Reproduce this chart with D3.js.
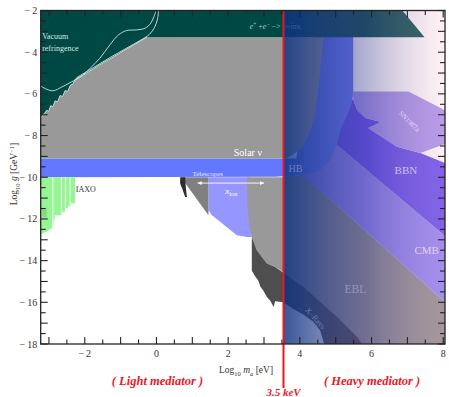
<!DOCTYPE html>
<html><head><meta charset="utf-8">
<script src="https://cdn.jsdelivr.net/npm/d3@7"></script>
<style>
html,body{margin:0;padding:0;background:#fff;}
svg{display:block;}
text{font-family:"Liberation Serif","DejaVu Serif",serif;}
</style></head><body>
<svg id="chart" width="449" height="397"></svg>
<script>
// Axes: log10 of the axion mass m_a [eV] and of the photon coupling g [GeV^-1]
const xDomain = [-3.23, 8.05];
const yDomain = [-18, -2];
const xTickLabels = [-2, 0, 2, 4, 6, 8];
const yTickLabels = [-2, -4, -6, -8, -10, -12, -14, -16, -18];

// Mediator mass separating the light and heavy regimes
const splitMassEV = 3500;          // 3.5 keV
const xSplit = Math.log10(splitMassEV);

// Upper-left edge of the solar-neutrino exclusion (jagged)
const solarEdge = [[-3.23,-7.17],[-3.17,-7.0],[-3.12,-6.93],[-3.06,-6.78],[-3.01,-6.84],[-2.95,-6.56],
  [-2.89,-6.62],[-2.83,-6.33],[-2.76,-6.38],[-2.69,-6.08],[-2.62,-6.12],[-2.55,-5.84],[-2.48,-5.88],
  [-2.40,-5.58],[-2.33,-5.52],[-2.27,-5.30],[-2.18,-5.22],[-1.95,-5.0],[-1.575,-4.6],[-1.0,-4.02],[-0.27,-3.28]];
// e+e- -> gamma + inv. band plus the vacuum-refringence corner
const pairBand = [[-3.23,-2],[6.86,-2],[7.48,-3.28]];
// Solar nu region (right boundary follows the HB curve)
const solarRight = [[4.66,-3.28],[4.60,-4.4],[4.51,-5.85],[4.41,-7.1],[4.27,-7.9],[4.07,-8.55],[3.79,-8.94],[3.6,-9.1],[-3.23,-9.1]];
const solarColumn = [[2.52,-10],[3.6,-10],[3.6,-14.62],[3.31,-14.31],[3.08,-14.14],[2.80,-13.5],[2.66,-12.87],[2.60,-12.38],[2.54,-11.44]];
// Horizontal branch stars
const hbRegion = [[-3.23,-9.1],[3.9,-9.1],[4.4,-3.2],[5.49,-3.2],[5.49,-6.0],[5.44,-6.5],[5.30,-7.1],[5.13,-7.74],
  [5.02,-8.5],[4.85,-9.18],[4.57,-9.66],[4.10,-9.9],[3.31,-9.98],[-3.23,-10]];
const snRegion = [[5.49,-5.89],[7.03,-5.89],[8.06,-6.8],[8.06,-8.4],[7.36,-8.84],[6.71,-8.54],[5.91,-7.64],
  [6.27,-7.35],[5.83,-7.16],[5.60,-6.77],[5.49,-6.29]];
const bbnRegion = [[5.27,-6.05],[5.49,-6.29],[5.60,-6.77],[5.83,-7.16],[6.27,-7.35],[5.91,-7.64],[6.71,-8.54],
  [7.36,-8.84],[8.06,-9.32],[8.06,-12.83],[4.93,-8.30],[4.71,-7.74]];
const cmbRegion = [[4.57,-8.22],[4.93,-8.30],[8.06,-12.83],[8.06,-16.0],[4.85,-11.05],[4.09,-9.99],[3.45,-9.66]];
const eblRegion = [[xSplit,-9.9],[4.10,-9.95],[4.85,-11.05],[8.06,-16.0],[8.06,-18],[4.68,-18],[4.57,-17.35],
  [4.37,-16.92],[4.10,-16.58],[3.79,-16.29],[xSplit,-16.0]];
const xrayRegion = [[2.66,-12.87],[2.80,-13.5],[3.08,-14.14],[3.31,-14.31],[4.10,-15.27],[5.04,-16.71],[5.60,-17.67],
  [5.74,-18],[4.68,-18],[4.57,-17.35],[4.37,-16.92],[4.10,-16.58],[3.79,-16.29],[3.54,-16.0],[3.31,-15.95],
  [3.27,-16.23],[3.17,-15.91],[3.08,-15.75],[2.98,-15.43],[2.90,-15.25],[2.84,-14.95],[2.75,-14.75],[2.66,-14.47]];
const xionRegion = [[1.45,-10],[2.62,-10],[2.66,-12.87],[2.52,-12.87],[2.24,-12.78],[2.01,-12.46],[1.55,-11.82],[1.45,-11.58]];
const telescopeWedge = [[0.74,-10],[1.45,-10],[1.45,-11.82],[0.80,-10.28]];
const telescopeSliver = [[0.66,-10],[0.80,-10],[0.82,-10.5],[0.85,-10.95],[0.80,-10.95],[0.72,-10.55],[0.66,-10.3]];
const iaxoRegion = [[-3.23,-10],[-2.27,-10],[-2.27,-11.25],[-2.38,-11.25],[-2.38,-11.39],[-2.47,-11.39],[-2.47,-11.49],
  [-2.55,-11.49],[-2.55,-11.68],[-2.65,-11.68],[-2.65,-11.82],[-2.83,-11.82],[-2.83,-11.92],[-2.92,-12.45],
  [-3.06,-12.60],[-3.23,-12.74]];
const iaxoGaps = [-2.89, -2.65, -2.54, -2.41];
const iaxoHatch = [-3.17, -3.14, -3.11, -3.08];
// Vacuum refringence contours
const refringenceA = [[-3.23,-5.62],[-3.06,-5.78],[-2.88,-5.85],[-2.65,-5.68],[-2.41,-5.46],[-2.13,-5.20],[-1.85,-4.77],
  [-1.58,-4.29],[-1.30,-3.65],[-1.06,-3.17],[-0.83,-2.96],[-0.55,-2.93],[-0.32,-2.85],[-0.16,-2.61],[-0.07,-2.29],[-0.01,-2.0]];
const refringenceB = [[-2.23,-5.22],[-1.76,-4.74],[-1.30,-4.26],[-0.83,-3.80],[-0.46,-3.44],[-0.2,-3.15],[-0.05,-2.8],[0.03,-2.4],[0.06,-2.0]];
const xionArrow = [[1.15,-10.28],[3.0,-10.28]];

const svg = d3.select('#chart');
const plot = {left: 40.7, right: 445, top: 10.5, bottom: 344};
const x = d3.scaleLinear().domain(xDomain).range([plot.left, plot.right]);
const y = d3.scaleLinear().domain(yDomain).range([plot.bottom, plot.top]);
const path = d3.line().x(d => x(d[0])).y(d => y(d[1]));
const smooth = d3.line().x(d => x(d[0])).y(d => y(d[1])).curve(d3.curveCatmullRom);

const defs = svg.append('defs');
defs.append('clipPath').attr('id', 'plotClip').append('rect')
  .attr('x', plot.left).attr('y', plot.top).attr('width', plot.right - plot.left).attr('height', plot.bottom - plot.top);
defs.append('clipPath').attr('id', 'iaxoClip').append('path').attr('d', path(iaxoRegion) + 'Z');
const grad = defs.append('linearGradient').attr('id', 'heavyShade').attr('gradientUnits', 'userSpaceOnUse')
  .attr('x1', x(xSplit)).attr('x2', x(xDomain[1])).attr('y1', 0).attr('y2', 0);
[[0, 'rgb(10,50,130)', 0.82], [0.5, 'rgb(70,70,150)', 0.42], [1, 'rgb(255,195,205)', 0.22]].forEach(s =>
  grad.append('stop').attr('offset', s[0]).attr('stop-color', s[1]).attr('stop-opacity', s[2]));

const g = svg.append('g').attr('clip-path', 'url(#plotClip)');
g.append('rect').attr('x', plot.left).attr('y', plot.top).attr('width', plot.right - plot.left)
  .attr('height', plot.bottom - plot.top).attr('fill', '#fff');

function poly(pts, fill) {
  return g.append('path').attr('d', path(pts) + 'Z').attr('fill', fill);
}
poly(eblRegion, '#8c8b8e');
poly(cmbRegion, 'rgb(140,128,245)');
poly(bbnRegion, 'rgb(95,72,240)');
poly(snRegion, 'rgb(165,145,238)');
poly(hbRegion, 'rgb(100,120,255)');
poly(xionRegion, 'rgb(150,150,255)');
poly(telescopeWedge, '#808080');
poly(telescopeSliver, '#2e2e2e');
poly(solarEdge.concat(solarRight), '#999999');
poly(solarColumn, '#999999');
poly(xrayRegion, '#4e4e4e');
poly(pairBand.concat(solarEdge.slice().reverse()), 'rgb(0,72,68)');
g.append('path').attr('d', path(solarEdge)).attr('fill', 'none').attr('stroke', 'rgba(235,245,240,0.85)').attr('stroke-width', 0.8);

// IAXO sensitivity
poly(iaxoRegion, 'rgb(150,246,150)');
const iaxo = g.append('g').attr('clip-path', 'url(#iaxoClip)');
iaxoGaps.forEach(v => iaxo.append('line').attr('x1', x(v)).attr('x2', x(v)).attr('y1', y(-10)).attr('y2', y(-13))
  .attr('stroke', '#fff').attr('stroke-width', 0.9));
iaxoHatch.forEach(v => iaxo.append('line').attr('x1', x(v)).attr('x2', x(v)).attr('y1', y(-11.5)).attr('y2', y(-11.92))
  .attr('stroke', 'rgb(110,190,110)').attr('stroke-width', 0.6));

// vacuum refringence contours
[refringenceA, refringenceB].forEach(c => g.append('path').attr('d', smooth(c)).attr('fill', 'none')
  .attr('stroke', 'rgb(205,232,228)').attr('stroke-width', 0.9));

// xion arrow
g.append('path').attr('d', path(xionArrow)).attr('stroke', '#fff').attr('stroke-width', 0.9);
const ax0 = x(xionArrow[0][0]), ax1 = x(xionArrow[1][0]), ay = y(xionArrow[0][1]);
g.append('path').attr('d', `M${ax0 + 4},${ay - 1.8}L${ax0},${ay}L${ax0 + 4},${ay + 1.8}Z`).attr('fill', '#fff');
g.append('path').attr('d', `M${ax1 - 4},${ay - 1.8}L${ax1},${ay}L${ax1 - 4},${ay + 1.8}Z`).attr('fill', '#fff');

function label(txt, px, py, size, color, anchor, rot) {
  const t = g.append('text').attr('x', px).attr('y', py).attr('font-size', size).attr('fill', color)
    .attr('text-anchor', anchor || 'start').text(txt);
  if (rot) t.attr('transform', `rotate(${rot},${px},${py})`);
  return t;
}
label('Vacuum', x(-3.19), y(-3.35), 8, 'rgb(210,232,228)');
label('refringence', x(-3.19), y(-3.93), 8, 'rgb(210,232,228)');
const ee = g.append('text').attr('x', x(2.6)).attr('y', y(-2.9)).attr('font-size', 8).attr('fill', 'rgb(165,208,204)');
ee.append('tspan').attr('font-style', 'italic').text('e');
ee.append('tspan').attr('font-size', 5.5).attr('dy', -3).text('+');
ee.append('tspan').attr('dy', 3).text(' +');
ee.append('tspan').attr('font-style', 'italic').text('e');
ee.append('tspan').attr('font-size', 5.5).attr('dy', -3).text('\u2212');
ee.append('tspan').attr('dy', 3).text(' \u2212> ');
ee.append('tspan').attr('font-style', 'italic').text('\u03b3');
ee.append('tspan').text('+inv.');

// shade of the heavy-mediator side
g.append('rect').attr('x', x(xSplit)).attr('y', plot.top).attr('width', x(xDomain[1]) - x(xSplit))
  .attr('height', plot.bottom - plot.top).attr('fill', 'url(#heavyShade)');

label('Solar \u03bd', x(2.55), y(-9.0), 10, '#fff', 'middle');
label('Telescopes', x(1.43), y(-9.93), 7, 'rgb(225,232,255)', 'middle');
const xi = g.append('text').attr('x', x(1.92)).attr('y', y(-10.82)).attr('font-size', 9).attr('fill', '#fff');
xi.append('tspan').attr('font-style', 'italic').text('x');
xi.append('tspan').attr('font-size', 6.5).attr('dy', 2).text('ion');
label('IAXO', x(-2.25), y(-10.7), 8, '#333');
label('HB', x(xSplit) + 5, y(-9.75), 10, 'rgb(112,122,186)');
label('BBN', x(6.96), y(-9.83), 11, 'rgb(205,192,236)', 'middle');
label('SN1987a', x(7.01), y(-7.4), 7, 'rgb(236,216,236)', 'middle', 45);
label('CMB', x(7.54), y(-13.70), 11, 'rgb(226,208,240)', 'middle');
label('EBL', x(5.55), y(-15.53), 11.5, 'rgb(152,148,182)', 'middle');
label('X\u2013Rays', x(4.38), y(-16.85), 8, 'rgb(112,122,168)', 'middle', 48);

// 3.5 keV divider
svg.append('line').attr('x1', x(xSplit)).attr('x2', x(xSplit)).attr('y1', plot.top).attr('y2', plot.bottom + 44)
  .attr('stroke', 'rgb(235,22,30)').attr('stroke-width', 2);

// frame and ticks on all four sides
const frame = svg.append('g').attr('stroke', '#222');
frame.append('rect').attr('x', plot.left).attr('y', plot.top).attr('width', plot.right - plot.left)
  .attr('height', plot.bottom - plot.top).attr('fill', 'none').attr('stroke-width', 1.3);
const xt = d3.range(-3, 8.01, 0.5), yt = d3.range(-18, -1.99, 0.5);
xt.forEach(v => {
  const L = Number.isInteger(v) ? 7 : 4.5;
  frame.append('line').attr('x1', x(v)).attr('x2', x(v)).attr('y1', plot.bottom).attr('y2', plot.bottom - L).attr('stroke-width', 1.1);
  frame.append('line').attr('x1', x(v)).attr('x2', x(v)).attr('y1', plot.top).attr('y2', plot.top + L).attr('stroke-width', 1.1);
});
yt.forEach(v => {
  const L = Number.isInteger(v) ? 7 : 5;
  frame.append('line').attr('x1', plot.left).attr('x2', plot.left + L).attr('y1', y(v)).attr('y2', y(v)).attr('stroke-width', 1.1);
  frame.append('line').attr('x1', plot.right).attr('x2', plot.right - L).attr('y1', y(v)).attr('y2', y(v)).attr('stroke-width', 1.1);
});
const fmt = v => v < 0 ? '\u2212\u2009' + Math.abs(v) : String(v);
svg.append('g').selectAll('text').data(xTickLabels).join('text')
  .attr('x', d => x(d)).attr('y', plot.bottom + 13).attr('text-anchor', 'middle')
  .attr('font-size', 10).attr('fill', '#333').text(fmt);
svg.append('g').selectAll('text').data(yTickLabels).join('text')
  .attr('x', plot.left - 3.5).attr('y', d => y(d) + 3.5).attr('text-anchor', 'end')
  .attr('font-size', 10).attr('fill', '#333').text(fmt);

// axis titles
const xl = svg.append('text').attr('x', 246).attr('y', 373).attr('text-anchor', 'middle').attr('font-size', 9.5).attr('fill', '#333');
xl.append('tspan').text('Log');
xl.append('tspan').attr('font-size', 6.5).attr('dy', 2.5).text('10');
xl.append('tspan').attr('dy', -2.5).text(' ');
xl.append('tspan').attr('font-style', 'italic').text('m');
xl.append('tspan').attr('font-style', 'italic').attr('font-size', 6.5).attr('dy', 2.5).text('a');
xl.append('tspan').attr('dy', -2.5).text(' [eV]');
const yl = svg.append('text').attr('transform', 'translate(17,174) rotate(-90)').attr('text-anchor', 'middle')
  .attr('font-size', 9.5).attr('fill', '#333');
yl.append('tspan').text('Log');
yl.append('tspan').attr('font-size', 6.5).attr('dy', 2.5).text('10');
yl.append('tspan').attr('dy', -2.5).text(' ');
yl.append('tspan').attr('font-style', 'italic').text('g');
yl.append('tspan').text(' [GeV');
yl.append('tspan').attr('font-size', 6.5).attr('dy', -3.5).text('\u22121');
yl.append('tspan').attr('dy', 3.5).text(']');

// regime annotations
const red = 'rgb(235,25,35)';
svg.append('text').attr('x', 157.5).attr('y', 385).attr('text-anchor', 'middle').attr('font-size', 12.5)
  .attr('font-weight', 'bold').attr('font-style', 'italic').attr('fill', red).text('( Light mediator )');
svg.append('text').attr('x', 372).attr('y', 385).attr('text-anchor', 'middle').attr('font-size', 12.5)
  .attr('font-weight', 'bold').attr('font-style', 'italic').attr('fill', red).text('( Heavy mediator )');
svg.append('text').attr('x', x(xSplit)).attr('y', 396).attr('text-anchor', 'middle').attr('font-size', 11)
  .attr('font-weight', 'bold').attr('font-style', 'italic').attr('fill', red).text('3.5 keV');
</script>
</body></html>
